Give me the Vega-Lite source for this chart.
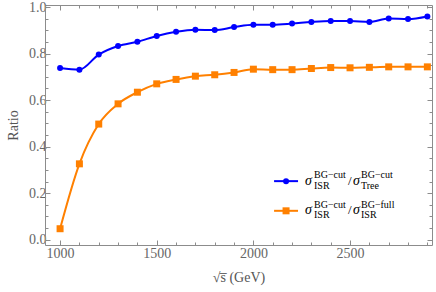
{
  "$schema": "https://vega.github.io/schema/vega-lite/v6.json",
  "width": 387,
  "height": 240,
  "autosize": "none",
  "padding": {"left": 45, "top": 5, "right": 4, "bottom": 47},
  "background": "white",
  "data": {"values": [{}]},
  "config": {
    "view": {"stroke": null},
    "axis": {
      "grid": false,
      "domainColor": "#8c8c8c",
      "tickColor": "#8c8c8c",
      "domainWidth": 1,
      "tickWidth": 1,
      "labelFont": "Liberation Serif",
      "labelFontSize": 14,
      "labelColor": "#666666",
      "titleFont": "Liberation Serif",
      "titleFontSize": 14,
      "titleFontWeight": "normal",
      "titleColor": "#555555"
    }
  },
  "datasets": {
    "main": [
      {"s": 1000, "ratio": 0.738, "series": "tree"},
      {"s": 1100, "ratio": 0.731, "series": "tree"},
      {"s": 1200, "ratio": 0.796, "series": "tree"},
      {"s": 1300, "ratio": 0.833, "series": "tree"},
      {"s": 1400, "ratio": 0.851, "series": "tree"},
      {"s": 1500, "ratio": 0.876, "series": "tree"},
      {"s": 1600, "ratio": 0.894, "series": "tree"},
      {"s": 1700, "ratio": 0.903, "series": "tree"},
      {"s": 1800, "ratio": 0.901, "series": "tree"},
      {"s": 1900, "ratio": 0.914, "series": "tree"},
      {"s": 2000, "ratio": 0.924, "series": "tree"},
      {"s": 2100, "ratio": 0.924, "series": "tree"},
      {"s": 2200, "ratio": 0.929, "series": "tree"},
      {"s": 2300, "ratio": 0.936, "series": "tree"},
      {"s": 2400, "ratio": 0.940, "series": "tree"},
      {"s": 2500, "ratio": 0.940, "series": "tree"},
      {"s": 2600, "ratio": 0.936, "series": "tree"},
      {"s": 2700, "ratio": 0.951, "series": "tree"},
      {"s": 2800, "ratio": 0.949, "series": "tree"},
      {"s": 2900, "ratio": 0.960, "series": "tree"},
      {"s": 1000, "ratio": 0.047, "series": "full"},
      {"s": 1100, "ratio": 0.326, "series": "full"},
      {"s": 1200, "ratio": 0.497, "series": "full"},
      {"s": 1300, "ratio": 0.584, "series": "full"},
      {"s": 1400, "ratio": 0.634, "series": "full"},
      {"s": 1500, "ratio": 0.670, "series": "full"},
      {"s": 1600, "ratio": 0.689, "series": "full"},
      {"s": 1700, "ratio": 0.703, "series": "full"},
      {"s": 1800, "ratio": 0.709, "series": "full"},
      {"s": 1900, "ratio": 0.719, "series": "full"},
      {"s": 2000, "ratio": 0.733, "series": "full"},
      {"s": 2100, "ratio": 0.731, "series": "full"},
      {"s": 2200, "ratio": 0.731, "series": "full"},
      {"s": 2300, "ratio": 0.736, "series": "full"},
      {"s": 2400, "ratio": 0.740, "series": "full"},
      {"s": 2500, "ratio": 0.739, "series": "full"},
      {"s": 2600, "ratio": 0.741, "series": "full"},
      {"s": 2700, "ratio": 0.743, "series": "full"},
      {"s": 2800, "ratio": 0.743, "series": "full"},
      {"s": 2900, "ratio": 0.743, "series": "full"}
    ]
  },
  "resolve": {"axis": {"x": "independent", "y": "independent"}},
  "layer": [
    {
      "data": {"name": "main"},
      "mark": {"type": "line", "interpolate": "monotone", "strokeWidth": 2},
      "encoding": {
        "x": {
          "field": "s", "type": "quantitative",
          "scale": {"domain": [922, 2924], "nice": false, "zero": false},
          "axis": {
            "orient": "bottom",
            "values": [1000,1100,1200,1300,1400,1500,1600,1700,1800,1900,2000,2100,2200,2300,2400,2500,2600,2700,2800,2900],
            "labelExpr": "datum.value % 500 === 0 ? datum.label : ''",
            "format": "d",
            "tickSize": {"condition": {"test": "datum.value % 500 === 0", "value": -5}, "value": -3},
            "labelPadding": 6,
            "title": "√s̅ (GeV)",
            "titlePadding": 10
          }
        },
        "y": {
          "field": "ratio", "type": "quantitative",
          "scale": {"domain": [-0.023, 1.009], "nice": false, "zero": false},
          "axis": {
            "orient": "left",
            "values": [0,0.05,0.1,0.15,0.2,0.25,0.3,0.35,0.4,0.45,0.5,0.55,0.6,0.65,0.7,0.75,0.8,0.85,0.9,0.95,1.0],
            "labelExpr": "abs(datum.value/0.2 - round(datum.value/0.2)) < 0.001 ? format(datum.value, '.1f') : ''",
            "tickSize": {"condition": {"test": "abs(datum.value/0.2 - round(datum.value/0.2)) < 0.001", "value": -5}, "value": -3},
            "labelPadding": 4,
            "title": "Ratio",
            "titlePadding": 8
          }
        },
        "color": {
          "field": "series", "type": "nominal",
          "scale": {"domain": ["tree", "full"], "range": ["#0000FF", "#FF8000"]},
          "legend": null
        }
      }
    },
    {
      "data": {"name": "main"},
      "mark": {"type": "point", "filled": true, "opacity": 1},
      "encoding": {
        "x": {
          "field": "s", "type": "quantitative",
          "scale": {"domain": [922, 2924], "nice": false, "zero": false},
          "axis": {
            "orient": "top",
            "values": [1000,1100,1200,1300,1400,1500,1600,1700,1800,1900,2000,2100,2200,2300,2400,2500,2600,2700,2800,2900],
            "labels": false,
            "tickSize": {"condition": {"test": "datum.value % 500 === 0", "value": -5}, "value": -3},
            "title": null
          }
        },
        "y": {
          "field": "ratio", "type": "quantitative",
          "scale": {"domain": [-0.023, 1.009], "nice": false, "zero": false},
          "axis": {
            "orient": "right",
            "values": [0,0.05,0.1,0.15,0.2,0.25,0.3,0.35,0.4,0.45,0.5,0.55,0.6,0.65,0.7,0.75,0.8,0.85,0.9,0.95,1.0],
            "labels": false,
            "tickSize": {"condition": {"test": "abs(datum.value/0.2 - round(datum.value/0.2)) < 0.001", "value": -5}, "value": -3},
            "title": null
          }
        },
        "color": {"field": "series", "type": "nominal", "legend": null},
        "shape": {
          "field": "series", "type": "nominal",
          "scale": {"domain": ["tree", "full"], "range": ["circle", "square"]},
          "legend": null
        },
        "size": {
          "field": "series", "type": "nominal",
          "scale": {"domain": ["tree", "full"], "range": [36, 49]},
          "legend": null
        }
      }
    },
    {
      "mark": {"type": "rule", "color": "#0000FF", "strokeWidth": 2},
      "encoding": {"x": {"datum": 2107, "axis": null}, "x2": {"datum": 2231}, "y": {"datum": 0.2516, "axis": null}}
    },
    {
      "mark": {"type": "point", "shape": "circle", "filled": true, "color": "#0000FF", "size": 36, "opacity": 1},
      "encoding": {"x": {"datum": 2169, "axis": null}, "y": {"datum": 0.2516, "axis": null}}
    },
    {
      "mark": {"type": "rule", "color": "#FF8000", "strokeWidth": 2},
      "encoding": {"x": {"datum": 2107, "axis": null}, "x2": {"datum": 2231}, "y": {"datum": 0.124, "axis": null}}
    },
    {
      "mark": {"type": "point", "shape": "square", "filled": true, "color": "#FF8000", "size": 49, "opacity": 1},
      "encoding": {"x": {"datum": 2169, "axis": null}, "y": {"datum": 0.124, "axis": null}}
    },
    {
      "mark": {"type": "text", "text": "σ", "font": "Liberation Serif", "fontStyle": "italic", "fontSize": 14, "align": "left", "baseline": "alphabetic", "color": "#000000"},
      "encoding": {"x": {"datum": 2267, "axis": null}, "y": {"datum": 0.2357, "axis": null}}
    },
    {
      "mark": {"type": "text", "text": "BG−cut", "font": "Liberation Serif", "fontSize": 10, "align": "left", "baseline": "alphabetic", "dx": 9, "dy": -6.5, "color": "#000000"},
      "encoding": {"x": {"datum": 2267, "axis": null}, "y": {"datum": 0.2357, "axis": null}}
    },
    {
      "mark": {"type": "text", "text": "ISR", "font": "Liberation Serif", "fontSize": 10, "align": "left", "baseline": "alphabetic", "dx": 9, "dy": 4, "color": "#000000"},
      "encoding": {"x": {"datum": 2267, "axis": null}, "y": {"datum": 0.2357, "axis": null}}
    },
    {
      "mark": {"type": "text", "text": "/", "font": "Liberation Serif", "fontSize": 13, "align": "left", "baseline": "alphabetic", "dx": 43, "color": "#000000"},
      "encoding": {"x": {"datum": 2267, "axis": null}, "y": {"datum": 0.2357, "axis": null}}
    },
    {
      "mark": {"type": "text", "text": "σ", "font": "Liberation Serif", "fontStyle": "italic", "fontSize": 14, "align": "left", "baseline": "alphabetic", "dx": 48, "color": "#000000"},
      "encoding": {"x": {"datum": 2267, "axis": null}, "y": {"datum": 0.2357, "axis": null}}
    },
    {
      "mark": {"type": "text", "text": "BG−cut", "font": "Liberation Serif", "fontSize": 10, "align": "left", "baseline": "alphabetic", "dx": 56, "dy": -6.5, "color": "#000000"},
      "encoding": {"x": {"datum": 2267, "axis": null}, "y": {"datum": 0.2357, "axis": null}}
    },
    {
      "mark": {"type": "text", "text": "Tree", "font": "Liberation Serif", "fontSize": 10, "align": "left", "baseline": "alphabetic", "dx": 56, "dy": 4, "color": "#000000"},
      "encoding": {"x": {"datum": 2267, "axis": null}, "y": {"datum": 0.2357, "axis": null}}
    },
    {
      "mark": {"type": "text", "text": "σ", "font": "Liberation Serif", "fontStyle": "italic", "fontSize": 14, "align": "left", "baseline": "alphabetic", "color": "#000000"},
      "encoding": {"x": {"datum": 2267, "axis": null}, "y": {"datum": 0.1084, "axis": null}}
    },
    {
      "mark": {"type": "text", "text": "BG−cut", "font": "Liberation Serif", "fontSize": 10, "align": "left", "baseline": "alphabetic", "dx": 9, "dy": -6.5, "color": "#000000"},
      "encoding": {"x": {"datum": 2267, "axis": null}, "y": {"datum": 0.1084, "axis": null}}
    },
    {
      "mark": {"type": "text", "text": "ISR", "font": "Liberation Serif", "fontSize": 10, "align": "left", "baseline": "alphabetic", "dx": 9, "dy": 4, "color": "#000000"},
      "encoding": {"x": {"datum": 2267, "axis": null}, "y": {"datum": 0.1084, "axis": null}}
    },
    {
      "mark": {"type": "text", "text": "/", "font": "Liberation Serif", "fontSize": 13, "align": "left", "baseline": "alphabetic", "dx": 43, "color": "#000000"},
      "encoding": {"x": {"datum": 2267, "axis": null}, "y": {"datum": 0.1084, "axis": null}}
    },
    {
      "mark": {"type": "text", "text": "σ", "font": "Liberation Serif", "fontStyle": "italic", "fontSize": 14, "align": "left", "baseline": "alphabetic", "dx": 48, "color": "#000000"},
      "encoding": {"x": {"datum": 2267, "axis": null}, "y": {"datum": 0.1084, "axis": null}}
    },
    {
      "mark": {"type": "text", "text": "BG−full", "font": "Liberation Serif", "fontSize": 10, "align": "left", "baseline": "alphabetic", "dx": 56, "dy": -6.5, "color": "#000000"},
      "encoding": {"x": {"datum": 2267, "axis": null}, "y": {"datum": 0.1084, "axis": null}}
    },
    {
      "mark": {"type": "text", "text": "ISR", "font": "Liberation Serif", "fontSize": 10, "align": "left", "baseline": "alphabetic", "dx": 56, "dy": 4, "color": "#000000"},
      "encoding": {"x": {"datum": 2267, "axis": null}, "y": {"datum": 0.1084, "axis": null}}
    }
  ]
}
